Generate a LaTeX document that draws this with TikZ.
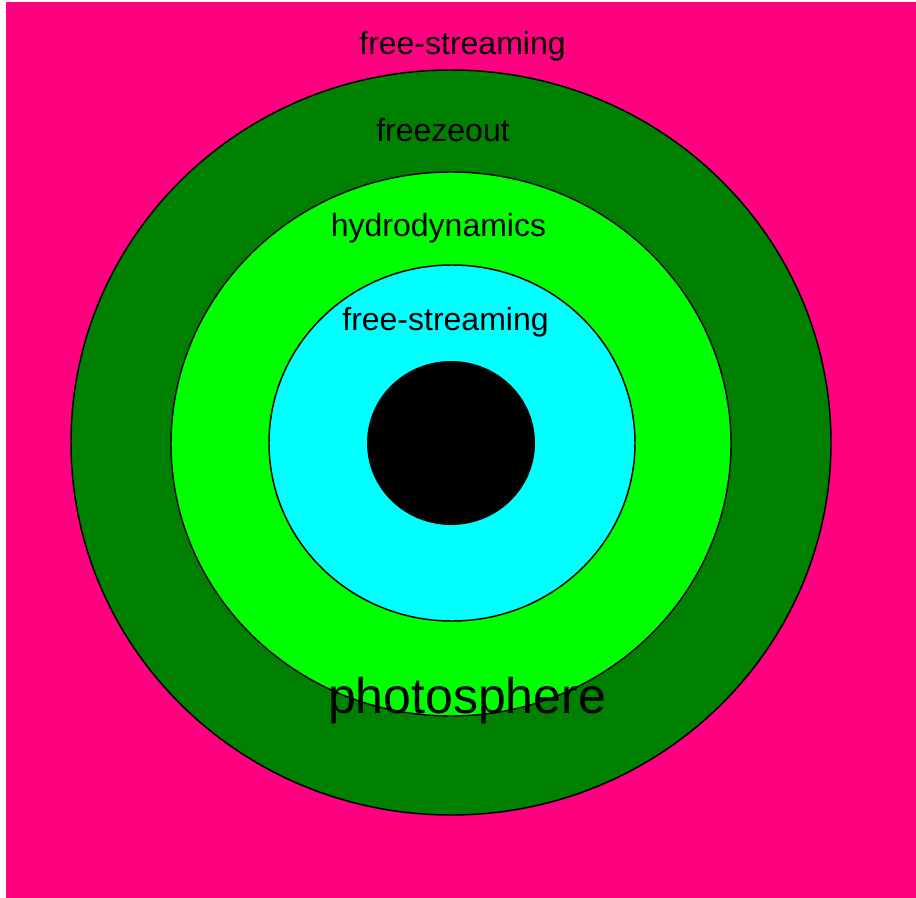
\documentclass[tikz,border=0pt]{standalone}
\usepackage{fontspec}
\setmainfont{Liberation Sans}
\usepackage{xcolor}
\definecolor{skypink}{HTML}{FF0080}
\definecolor{freezegreen}{HTML}{008000}
\definecolor{hydrogreen}{HTML}{00FF00}
\definecolor{innercyan}{HTML}{00FFFF}

\begin{document}
\begin{tikzpicture}[x=0.75pt,y=-0.75pt,
  shell/.style={draw=black,line width=1.1pt},
  lbl/.style={anchor=base,inner sep=0pt,font=\fontsize{24}{28}\selectfont}]
\useasboundingbox (0,0) rectangle (916,898);
\fill[skypink] (6,2) rectangle (916,898);
% shells, outside in
\draw[shell,fill=freezegreen] (451,442.5) ellipse [x radius=380,y radius=372.5];
\draw[shell,fill=hydrogreen] (451,444) ellipse [x radius=280,y radius=272];
\draw[shell,fill=innercyan] (452,443) ellipse [x radius=183,y radius=178];
\fill[black] (451,443) ellipse [x radius=84,y radius=82];
% labels
\node[lbl] (outerfs) at (462.5,55) {free-streaming};
\node[lbl] (freeze) at (443,142) {freezeout};
\node[lbl] (hydro) at (438.5,237) {hydrodynamics};
\node[lbl] (innerfs) at (445.5,330) {free-streaming};
\node[lbl,font=\fontsize{37.5}{42}\selectfont] (photo) at (467,713) {photosphere};
\end{tikzpicture}
\end{document}
